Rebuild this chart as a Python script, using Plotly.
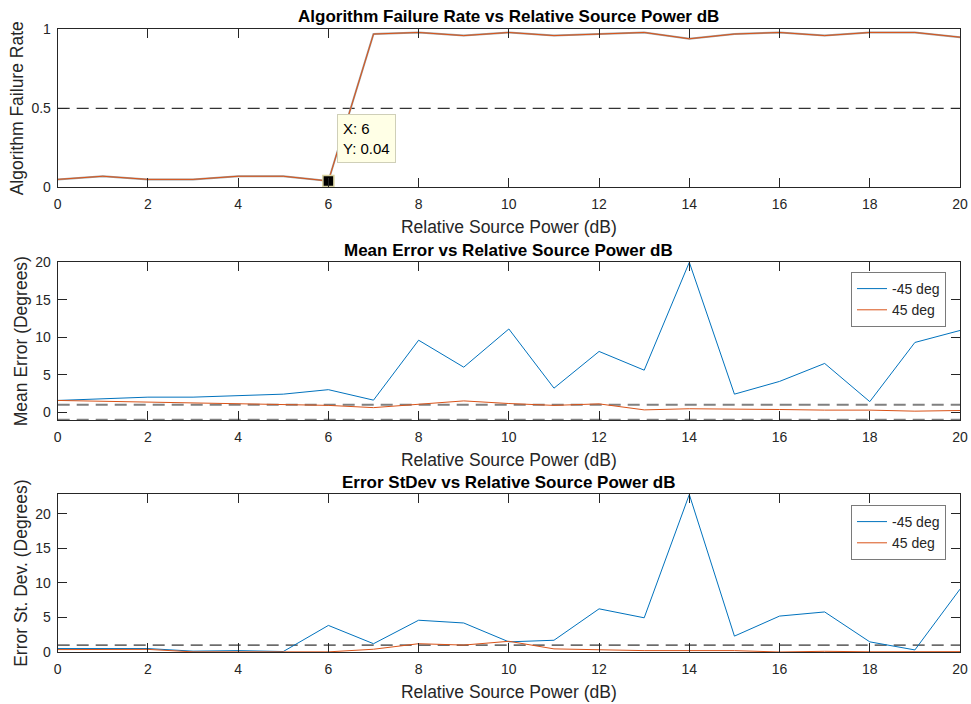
import plotly.graph_objects as go

# ---------------- data ----------------
power_db = list(range(0, 21))

failure_rate = [0.05, 0.07, 0.05, 0.05, 0.07, 0.07, 0.04, 0.97, 0.98, 0.96, 0.98,
                0.96, 0.97, 0.98, 0.94, 0.97, 0.98, 0.96, 0.98, 0.98, 0.95]

mean_err_m45 = [1.56, 1.75, 2.0, 2.0, 2.2, 2.4, 3.0, 1.6, 9.6, 6.0, 11.1,
                3.2, 8.1, 5.6, 20.0, 2.4, 4.1, 6.5, 1.4, 9.3, 10.9]
mean_err_p45 = [1.56, 1.45, 1.33, 1.15, 1.1, 1.0, 0.9, 0.6, 1.0, 1.5, 1.15,
                0.9, 1.1, 0.3, 0.45, 0.45, 0.35, 0.27, 0.27, 0.13, 0.22]

std_err_m45 = [0.5, 0.5, 0.5, 0.12, 0.2, 0.07, 3.85, 1.2, 4.6, 4.2, 1.47,
               1.7, 6.25, 4.95, 22.8, 2.3, 5.2, 5.8, 1.47, 0.3, 9.1]
std_err_p45 = [0.35, 0.38, 0.38, 0.02, 0.05, 0.03, 0.02, 0.4, 1.2, 1.0, 1.55,
               0.45, 0.3, 0.2, 0.2, 0.2, 0.0, 0.1, 0.03, 0.03, 0.05]

x_limits = [0, 20]
fail_threshold = 0.5
mean_bounds = [1, -1]
std_threshold = 1

tip_x = [6]
tip_y = [0.04]

titles = ["Algorithm Failure Rate vs Relative Source Power dB",
          "Mean Error vs Relative Source Power dB",
          "Error StDev vs Relative Source Power dB"]
ylabels = ["Algorithm Failure Rate", "Mean Error (Degrees)", "Error St. Dev. (Degrees)"]
xlabel = "Relative Source Power (dB)"
series_names = ["-45 deg", "45 deg"]

BLUE = "#0072BD"
ORANGE = "#D95319"
FONT = "Liberation Sans, Arial, Helvetica, sans-serif"
TXT = "#262626"

W, H = 971, 704
def yd(top_px, bot_px):
    return [1 - bot_px / H, 1 - top_px / H]
xdom = [57.7 / W, 960 / W]

fig = go.Figure()

# ---- top panel ----
fig.add_trace(go.Scatter(x=x_limits, y=[fail_threshold] * 2, mode="lines",
                         line=dict(color="#000000", width=1, dash="12px,7px"),
                         showlegend=False, xaxis="x", yaxis="y", hoverinfo="skip"))
fig.add_trace(go.Scatter(x=power_db, y=failure_rate, mode="lines",
                         line=dict(color="#a0a0a0", width=2),
                         showlegend=False, xaxis="x", yaxis="y"))
fig.add_trace(go.Scatter(x=power_db, y=failure_rate, mode="lines",
                         line=dict(color=ORANGE, width=1),
                         showlegend=False, xaxis="x", yaxis="y"))
fig.add_trace(go.Scatter(x=tip_x, y=tip_y, mode="markers",
                         marker=dict(symbol="square", size=11, color="#000000",
                                     line=dict(color="#d8d2a0", width=1.5)),
                         showlegend=False, xaxis="x", yaxis="y", cliponaxis=False))

# ---- middle panel ----
for b in mean_bounds:
    fig.add_trace(go.Scatter(x=x_limits, y=[b] * 2, mode="lines",
                             line=dict(color="#808080", width=2, dash="12px,7px"),
                             showlegend=False, xaxis="x2", yaxis="y2", hoverinfo="skip"))
fig.add_trace(go.Scatter(x=power_db, y=mean_err_m45, mode="lines", name=series_names[0],
                         line=dict(color=BLUE, width=1), xaxis="x2", yaxis="y2", legend="legend"))
fig.add_trace(go.Scatter(x=power_db, y=mean_err_p45, mode="lines", name=series_names[1],
                         line=dict(color=ORANGE, width=1), xaxis="x2", yaxis="y2", legend="legend"))

# ---- bottom panel ----
fig.add_trace(go.Scatter(x=x_limits, y=[std_threshold] * 2, mode="lines",
                         line=dict(color="#000000", width=1, dash="12px,7px"),
                         showlegend=False, xaxis="x3", yaxis="y3", hoverinfo="skip"))
fig.add_trace(go.Scatter(x=power_db, y=std_err_m45, mode="lines", name=series_names[0],
                         line=dict(color=BLUE, width=1), xaxis="x3", yaxis="y3", legend="legend2"))
fig.add_trace(go.Scatter(x=power_db, y=std_err_p45, mode="lines", name=series_names[1],
                         line=dict(color=ORANGE, width=1), xaxis="x3", yaxis="y3", legend="legend2"))

def xaxis(dom_anchor):
    return dict(domain=xdom, anchor=dom_anchor, range=x_limits, dtick=2, tick0=0,
                showline=True, linecolor=TXT, linewidth=1, mirror="ticks",
                ticks="inside", ticklen=9, tickcolor=TXT, showgrid=False, zeroline=False,
                automargin=False, ticklabelstandoff=4,
                tickfont=dict(family=FONT, size=14, color=TXT),
                title=dict(text=xlabel, font=dict(family=FONT, size=17.5, color=TXT), standoff=9))

def yaxis(dom, rng, dtick, label, anchor):
    return dict(domain=dom, anchor=anchor, range=rng, dtick=dtick, tick0=0,
                showline=True, linecolor=TXT, linewidth=1, mirror="ticks",
                ticks="inside", ticklen=9, tickcolor=TXT, showgrid=False, zeroline=False,
                automargin=False, ticklabelstandoff=3,
                tickfont=dict(family=FONT, size=14, color=TXT),
                title=dict(text=label, font=dict(family=FONT, size=17.5, color=TXT), standoff=3))

d1 = yd(29.3, 187.3)
d2 = yd(262.3, 420)
d3 = yd(494.3, 652)

fig.update_layout(
    width=W, height=H,
    margin=dict(l=0, r=0, t=0, b=0, autoexpand=False),
    paper_bgcolor="white", plot_bgcolor="white",
    font=dict(family=FONT, color=TXT),
    xaxis=xaxis("y"),
    yaxis=yaxis(d1, [0, 1], 0.5, ylabels[0], "x"),
    xaxis2=xaxis("y2"),
    yaxis2=yaxis(d2, [-1.05, 20], 5, ylabels[1], "x2"),
    xaxis3=xaxis("y3"),
    yaxis3=yaxis(d3, [0, 22.83], 5, ylabels[2], "x3"),
    legend=dict(x=946 / W, xanchor="right", y=1 - 272 / H, yanchor="top",
                bgcolor="white", bordercolor="#7a7a7a", borderwidth=1,
                font=dict(family=FONT, size=14, color=TXT), tracegroupgap=0),
    legend2=dict(x=946 / W, xanchor="right", y=1 - 505 / H, yanchor="top",
                 bgcolor="white", bordercolor="#7a7a7a", borderwidth=1,
                 font=dict(family=FONT, size=14, color=TXT), tracegroupgap=0),
    showlegend=True,
)

title_y = [16.7, 250, 482]
for t, ty in zip(titles, title_y):
    fig.add_annotation(text="<b>" + t + "</b>", xref="paper", yref="paper",
                       x=(xdom[0] + xdom[1]) / 2, y=1 - ty / H, xanchor="center", yanchor="middle",
                       showarrow=False, font=dict(family=FONT, size=17, color="#000000"))

fig.add_annotation(text="X: 6<br>Y: 0.04", x=tip_x[0], y=tip_y[0], xref="x", yref="y",
                   xanchor="left", yanchor="bottom", xshift=9, yshift=18, showarrow=False,
                   align="left", bgcolor="#ffffe6", bordercolor="#cfcfb8", borderwidth=1,
                   borderpad=5, font=dict(family=FONT, size=15, color="#000000"))

fig.write_html("out.html", config={"displayModeBar": False},
               post_script="document.body.style.margin='0';document.body.style.overflow='hidden';")
